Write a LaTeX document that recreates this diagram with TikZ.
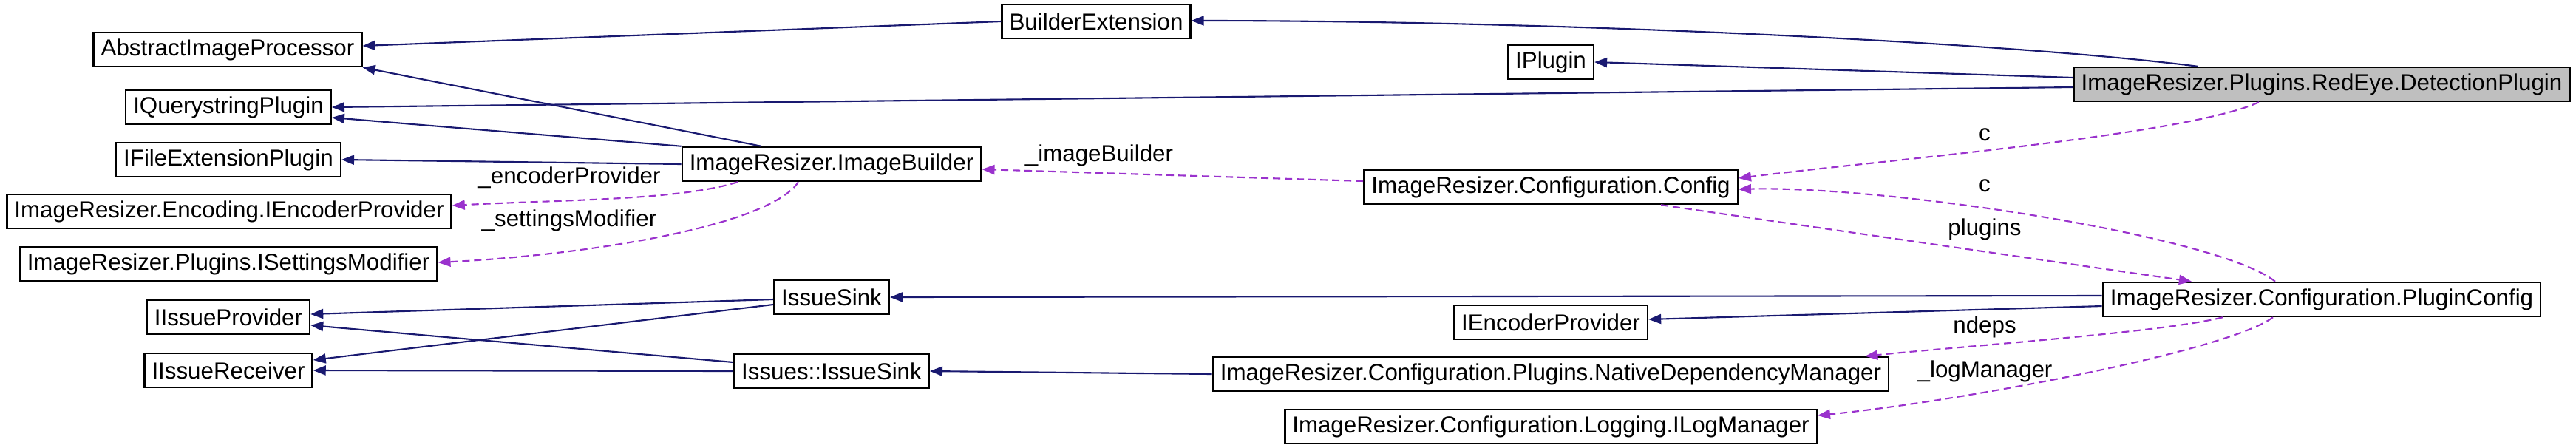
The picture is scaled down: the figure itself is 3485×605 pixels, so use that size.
\documentclass[tikz,border=0pt]{standalone}
\usepackage{fontspec}
\setmainfont{Liberation Sans}
\usepackage{xcolor}
\definecolor{inhblue}{RGB}{25,25,112}
\definecolor{usepurple}{RGB}{154,50,205}
\usepackage{tikz}
\usetikzlibrary{arrows.meta}

\begin{document}
\begin{tikzpicture}[
    x=0.01cm, y=-0.01cm,
    font=\fontsize{8.9}{10.5}\selectfont,
    box/.style={rectangle, minimum height=0.46cm, inner xsep=0.1cm, inner ysep=0pt, draw=black, line width=0.7pt, fill=white},
    inh/.style={-{Triangle[length=0.17cm, width=0.13cm]}, draw=inhblue, line width=0.6pt},
    uses/.style={-{Triangle[length=0.17cm, width=0.13cm]}, draw=usepurple, line width=0.6pt, dash pattern=on 0.1cm off 0.06cm},
    lbl/.style={inner sep=1pt},
]
\useasboundingbox (0,0) rectangle (3485,605);

% Left column - interfaces
\node[box] (absproc) at (308,67) {AbstractImageProcessor};
\node[box] (qsplugin) at (309,145) {IQuerystringPlugin};
\node[box] (fileext) at (309,216) {IFileExtensionPlugin};
\node[box] (encprov) at (310,286) {ImageResizer.Encoding.IEncoderProvider};
\node[box] (setmod) at (309,357) {ImageResizer.Plugins.ISettingsModifier};
\node[box] (issueprov) at (309,429) {IIssueProvider};
\node[box] (issuerecv) at (309,501) {IIssueReceiver};

% Second column
\node[box] (imgbuilder) at (1125,222) {ImageResizer.ImageBuilder};
\node[box] (issuesink) at (1125,402) {IssueSink};
\node[box] (issuesink2) at (1125,502) {Issues::IssueSink};
\node[box] (builderext) at (1483,29) {BuilderExtension};

% Third column
\node[box] (iplugin) at (2098,84) {IPlugin};
\node[box] (config) at (2098,253) {ImageResizer.Configuration.Config};
\node[box] (iencprov) at (2098,436) {IEncoderProvider};
\node[box] (nativedep) at (2098,506) {ImageResizer.Configuration.Plugins.NativeDependencyManager};
\node[box] (logmgr) at (2098,577) {ImageResizer.Configuration.Logging.ILogManager};

% Right column
\node[box, fill=black!25] (detection) at (3141,114) {ImageResizer.Plugins.RedEye.DetectionPlugin};
\node[box] (pluginconfig) at (3141,405) {ImageResizer.Configuration.PluginConfig};

% Inheritance
\draw[inh] ([xshift=-1.68cm]detection.north) .. controls +(-250,-32) and +(500,0) .. ([yshift=0.01cm]builderext.east);
\draw[inh] ([yshift=0.09cm]detection.west) -- (iplugin.east);
\draw[inh] ([yshift=-0.04cm]detection.west) -- (qsplugin.east);
\draw[inh] (builderext.west) -- ([yshift=0.05cm]absproc.east);
\draw[inh] ([xshift=-0.95cm]imgbuilder.north) -- (absproc.south east);
\draw[inh] (imgbuilder.north west) -- ([yshift=-0.14cm]qsplugin.east);
\draw[inh] (imgbuilder.west) -- (fileext.east);
\draw[inh] ([yshift=0.05cm]pluginconfig.west) -- (issuesink.east);
\draw[inh] ([yshift=-0.09cm]pluginconfig.west) -- ([yshift=0.04cm]iencprov.east);
\draw[inh] (nativedep.west) -- (issuesink2.east);
\draw[inh] ([yshift=-0.03cm]issuesink.west) -- ([yshift=0.04cm]issueprov.east);
\draw[inh] ([yshift=-0.1cm]issuesink.west) -- ([yshift=0.14cm]issuerecv.east);
\draw[inh] ([yshift=0.12cm]issuesink2.west) -- ([yshift=-0.11cm]issueprov.east);
\draw[inh] (issuesink2.west) -- (issuerecv.east);

% Usage
\draw[uses] ([xshift=-1.27cm]imgbuilder.south) .. controls +(-80,25) and +(150,-8) .. ([yshift=0.08cm]encprov.east)
    node[lbl] at (770,240) {\_encoderProvider};
\draw[uses] ([xshift=-0.45cm]imgbuilder.south) .. controls +(-40,60) and +(200,-10) .. ([yshift=0.02cm]setmod.east)
    node[lbl] at (770,298) {\_settingsModifier};
\draw[uses] ([yshift=0.08cm]config.west) -- ([yshift=-0.07cm]imgbuilder.east)
    node[lbl] at (1487,210) {\_imageBuilder};
\draw[uses] ([xshift=-0.85cm]detection.south) .. controls +(-100,45) and +(200,-25) .. ([yshift=0.12cm]config.east)
    node[lbl] at (2685,182) {c};
\draw[uses] ([xshift=-0.63cm]pluginconfig.north) .. controls +(-78,-62) and +(200,-5) .. ([yshift=-0.03cm]config.east)
    node[lbl] at (2685,251) {c};
\draw[uses] ([xshift=1.49cm]config.south) -- ([xshift=-1.76cm]pluginconfig.north)
    node[lbl] at (2685,310) {plugins};
\draw[uses] ([xshift=-1.34cm]pluginconfig.south) .. controls +(-80,20) and +(150,-15) .. ([xshift=-0.33cm]nativedep.north east)
    node[lbl] at (2685,442) {ndeps};
\draw[uses] ([xshift=-0.66cm]pluginconfig.south) .. controls +(-60,45) and +(200,-20) .. ([yshift=0.15cm]logmgr.east)
    node[lbl] at (2685,502) {\_logManager};

\end{tikzpicture}
\end{document}
